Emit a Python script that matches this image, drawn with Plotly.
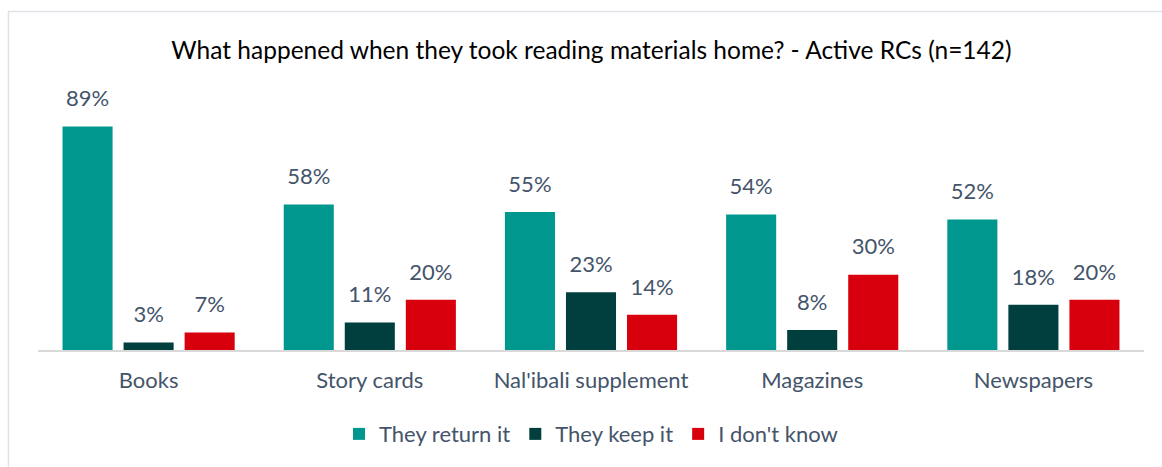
import plotly.graph_objects as go

# Reading materials taken home by active RCs (n=142)
categories = ["Books", "Story cards", "Nal'ibali supplement", "Magazines", "Newspapers"]
return_it = [89, 58, 55, 54, 52]
keep_it = [3, 11, 23, 8, 18]
dont_know = [7, 20, 14, 30, 20]

series = [
    ("They return it", return_it, "#00988e"),
    ("They keep it", keep_it, "#013e3e"),
    ("I don't know", dont_know, "#d8000c"),
]

label_color = "#44546a"
font_family = "Lato, 'Open Sans', sans-serif"

fig = go.Figure()
for i, (name, values, color) in enumerate(series):
    fig.add_trace(go.Bar(
        name=name,
        x=categories,
        y=values,
        offsetgroup=str(i),
        marker=dict(color=color, line=dict(width=0)),
        hovertemplate="%{x}: %{y}%<extra>" + name + "</extra>",
    ))

# Value labels, grouped to sit over their bars; the invisible marker
# gives the label some breathing room above the bar top.
for i, (name, values, color) in enumerate(series):
    fig.add_trace(go.Scatter(
        x=categories,
        y=values,
        offsetgroup=str(i),
        mode="markers+text",
        marker=dict(size=22, opacity=0),
        text=[f"{v}%" for v in values],
        textposition="top center",
        textfont=dict(size=22, color=label_color, family=font_family),
        cliponaxis=False,
        showlegend=False,
        hoverinfo="skip",
    ))

fig.update_layout(
    width=1162,
    height=467,
    margin=dict(l=38, r=18, t=99, b=117),
    paper_bgcolor="white",
    plot_bgcolor="white",
    barmode="group",
    scattermode="group",
    bargap=0.172,
    bargroupgap=0.18,
    scattergap=0.172,
    title=dict(
        text="What happened when they took reading materials home? - Active RCs (n=142)",
        x=0.509, xanchor="center",
        y=0.893, yanchor="middle",
        font=dict(size=24.5, color="#000000", family=font_family),
    ),
    font=dict(family=font_family, color=label_color),
    showlegend=True,
    legend=dict(
        orientation="h",
        x=0.5, xanchor="center",
        y=-0.335, yanchor="middle",
        font=dict(size=22, color=label_color),
        itemwidth=30,
        traceorder="normal",
    ),
    xaxis=dict(
        showline=True, linecolor="#d9d9d9", linewidth=1.5,
        ticks="", showgrid=False,
        tickfont=dict(size=22, color=label_color),
        ticklabelstandoff=10,
    ),
    yaxis=dict(
        range=[0, 100], visible=False, showgrid=False, zeroline=False,
    ),
    shapes=[
        dict(
            type="rect", xref="paper", yref="paper",
            x0=-0.0267, x1=1.05, y0=-0.6, y1=1.3486,
            line=dict(color="#dfe3e8", width=1.5),
            fillcolor="rgba(0,0,0,0)", layer="below",
        )
    ],
)

fig.write_html("out.html")
